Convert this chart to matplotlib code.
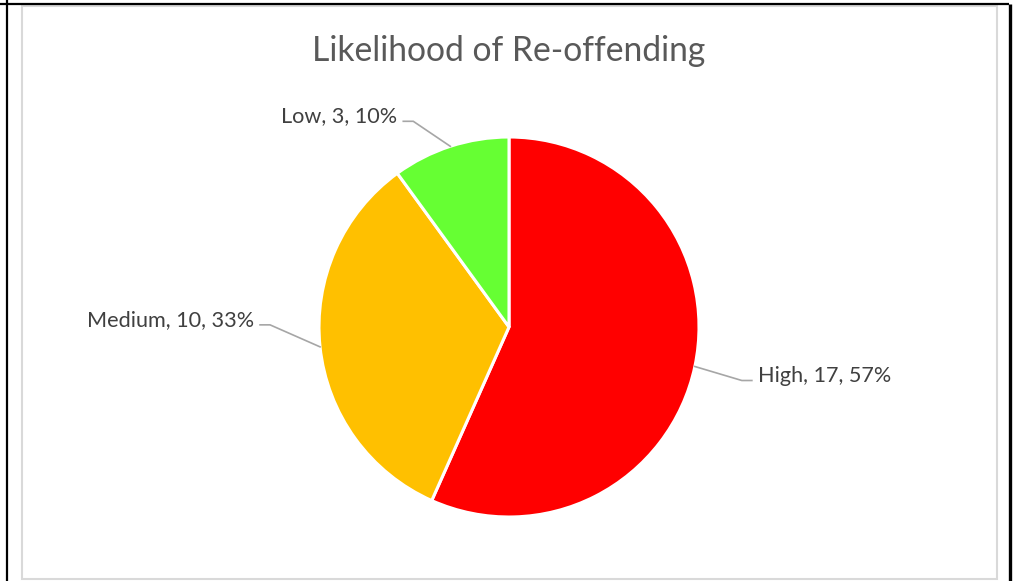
"""Pie chart: likelihood of re-offending."""

import math

import matplotlib

matplotlib.use("Agg")
import matplotlib.pyplot as plt
from matplotlib.patches import Rectangle

# data
categories = ["High", "Medium", "Low"]
counts = [17, 10, 3]
colors = ["#FF0000", "#FFC000", "#66FF33"]
title = "Likelihood of Re-offending"

# layout (pixels, y grows downward)
W, H = 1017, 581
CENTER = (509, 327)
RADIUS = 190
# elbow offset from wedge edge, per category
elbow_offsets = {"High": (47, 14), "Medium": (-50, -22), "Low": (-37, -25)}
arm = 10

plt.rcParams["font.family"] = ["Lato", "DejaVu Sans"]

fig = plt.figure(figsize=(W / 100, H / 100), dpi=100)
ax = fig.add_axes([0, 0, 1, 1])

# y axis is inverted, so counterclock=True draws clockwise on screen
wedges, _ = ax.pie(
    counts,
    colors=colors,
    startangle=-90,
    counterclock=True,
    center=CENTER,
    radius=RADIUS,
    wedgeprops={"edgecolor": "white", "linewidth": 2.2},
    frame=True,
)
ax.set_xlim(0, W)
ax.set_ylim(H, 0)
ax.set_aspect("equal")
ax.axis("off")

# outer frame lines of the screenshot
ax.plot([0, 1009], [4, 4], color="black", lw=1.6, solid_capstyle="butt")
ax.plot([6.5, 6.5], [0, H], color="black", lw=1.6, solid_capstyle="butt")
ax.plot([1010, 1010], [4, H], color="black", lw=2.4, solid_capstyle="butt")
# chart area border
ax.add_patch(Rectangle((21.5, 5.5), 975, 573.5, fill=False,
                       edgecolor="#D9D9D9", lw=1.5))

total = sum(counts)
for wedge, name, count in zip(wedges, categories, counts):
    mid = math.radians((wedge.theta1 + wedge.theta2) / 2)
    ex = CENTER[0] + RADIUS * math.cos(mid)
    ey = CENTER[1] + RADIUS * math.sin(mid)
    dx, dy = elbow_offsets[name]
    bx, by = ex + dx, ey + dy
    side = 1 if dx > 0 else -1
    tx = bx + side * arm
    ax.plot([ex, bx, tx], [ey, by, by], color="#A6A6A6", lw=1.2)
    label = f"{name}, {count}, {round(100 * count / total)}%"
    ax.text(tx + side * 6, by + 1, label, ha="left" if side > 0 else "right",
            va="baseline", fontsize=15.6, color="#404040")

ax.text(509, 61, title, ha="center", va="baseline", fontsize=24.2,
        color="#595959")

fig.savefig("out.png", dpi=100)
